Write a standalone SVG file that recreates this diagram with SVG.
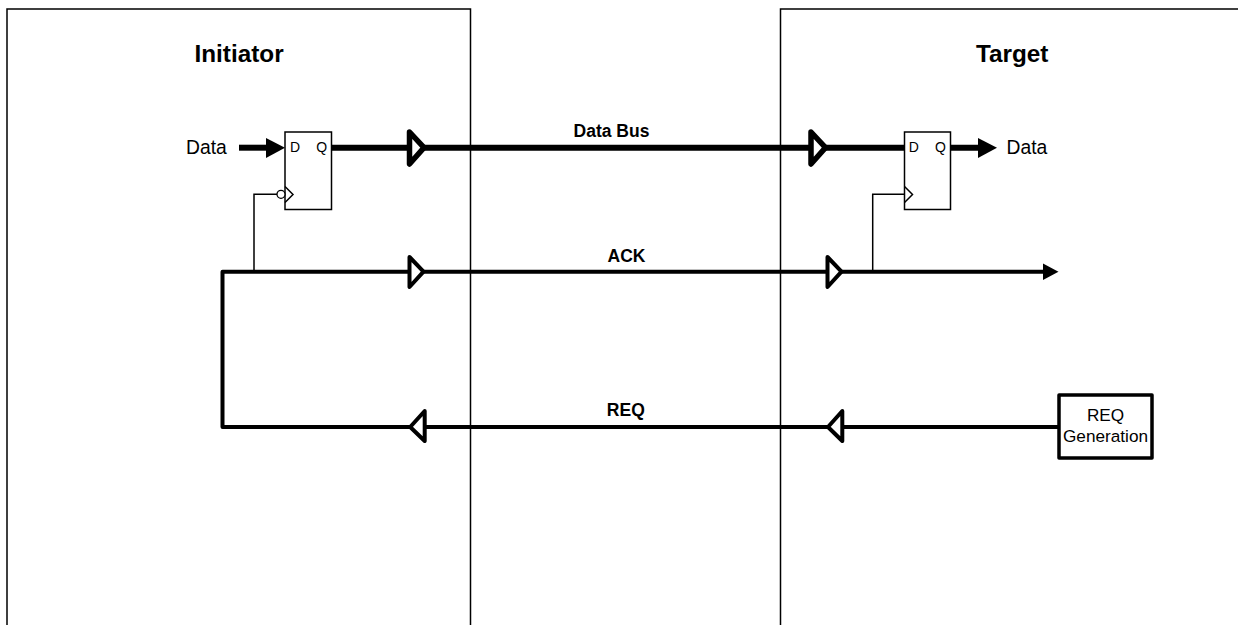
<svg xmlns="http://www.w3.org/2000/svg" width="1238" height="625" viewBox="0 0 1238 625">
<style>
text{font-family:"Liberation Sans",Arial,sans-serif;fill:#000}
.title{font-size:24.3px;font-weight:bold}
.sig{font-size:17.5px;font-weight:bold;text-anchor:middle}
.lbl{font-size:19.3px}
.pin{font-size:14px}
.box{fill:#fff;stroke:#000;stroke-width:1.5}
.thin{fill:none;stroke:#000;stroke-width:1.5}
.bus{fill:none;stroke:#000;stroke-width:6}
.wire{fill:none;stroke:#000;stroke-width:4;stroke-linejoin:round}
.bufT{fill:#fff;stroke:#000;stroke-width:5.5;stroke-linejoin:round}
.buf{fill:#fff;stroke:#000;stroke-width:4;stroke-linejoin:round}
</style>
<g id="initiator-panel">
<path class="thin" d="M7 625V9H470.500V625"/>
<text class="title" x="194.500" y="61.500">Initiator</text>
</g>
<g id="target-panel">
<path class="thin" d="M780.500 625V9H1238"/>
<text class="title" x="976" y="61.500">Target</text>
</g>
<g id="connectors">
<path class="bus" d="M239 147.700H266"/>
<polygon points="266,138 285,147.700 266,158" fill="#000"/>
<path class="bus" d="M331 147.700H410M424 147.700H812M826 147.700H905M950 147.700H978"/>
<polygon points="978,138 997,147.700 978,158" fill="#000"/>
<path class="wire" d="M1059 427H222.500V271.700H1043"/>
<polygon points="1043,263.500 1058.500,271.700 1043,280" fill="#000"/>
<path class="thin" d="M280 194.300H254V271M904.500 194.300H872.700V271"/>
</g>
<g id="ff-initiator">
<rect class="box" x="285" y="132" width="46.500" height="77.500"/>
<path class="thin" d="M285 186.500L293 194.500L285 202.500"/>
<circle cx="281" cy="194.300" r="4" fill="#fff" stroke="#000" stroke-width="1.300"/>
<text class="pin" x="290" y="151.700">D</text>
<text class="pin" x="316.200" y="151.700">Q</text>
</g>
<g id="ff-target">
<rect class="box" x="904.500" y="132" width="46" height="77.500"/>
<path class="thin" d="M904.500 186.500L912.500 194.500L904.500 202.500"/>
<text class="pin" x="908.800" y="151.700">D</text>
<text class="pin" x="935" y="151.700">Q</text>
</g>
<g id="buffer-data-initiator"><polygon class="bufT" points="409.500,132 424,147.700 409.500,164"/></g>
<g id="buffer-data-target"><polygon class="bufT" points="811,132 825.500,147.700 811,164"/></g>
<g id="buffer-ack-initiator"><polygon class="buf" points="409.500,257 423.500,271.700 409.500,287"/></g>
<g id="buffer-ack-target"><polygon class="buf" points="827.500,257 841.500,271.700 827.500,287"/></g>
<g id="buffer-req-target"><polygon class="buf" points="842.300,411 828,427 842.300,441"/></g>
<g id="buffer-req-initiator"><polygon class="buf" points="424.700,411 410.200,427 424.700,441"/></g>
<g id="req-generation">
<rect x="1059" y="395" width="93" height="63" fill="#fff" stroke="#000" stroke-width="3.500" stroke-linejoin="round"/>
<text x="1105.500" y="420.700" font-size="17.200" text-anchor="middle">REQ</text>
<text x="1105.500" y="441.500" font-size="17.200" text-anchor="middle">Generation</text>
</g>
<g id="labels">
<text class="lbl" x="186" y="154">Data</text>
<text class="lbl" x="1006.500" y="154">Data</text>
<text class="sig" x="611.500" y="136.500">Data Bus</text>
<text class="sig" x="626.500" y="261.500">ACK</text>
<text class="sig" x="625.800" y="416.300">REQ</text>
</g>
</svg>
